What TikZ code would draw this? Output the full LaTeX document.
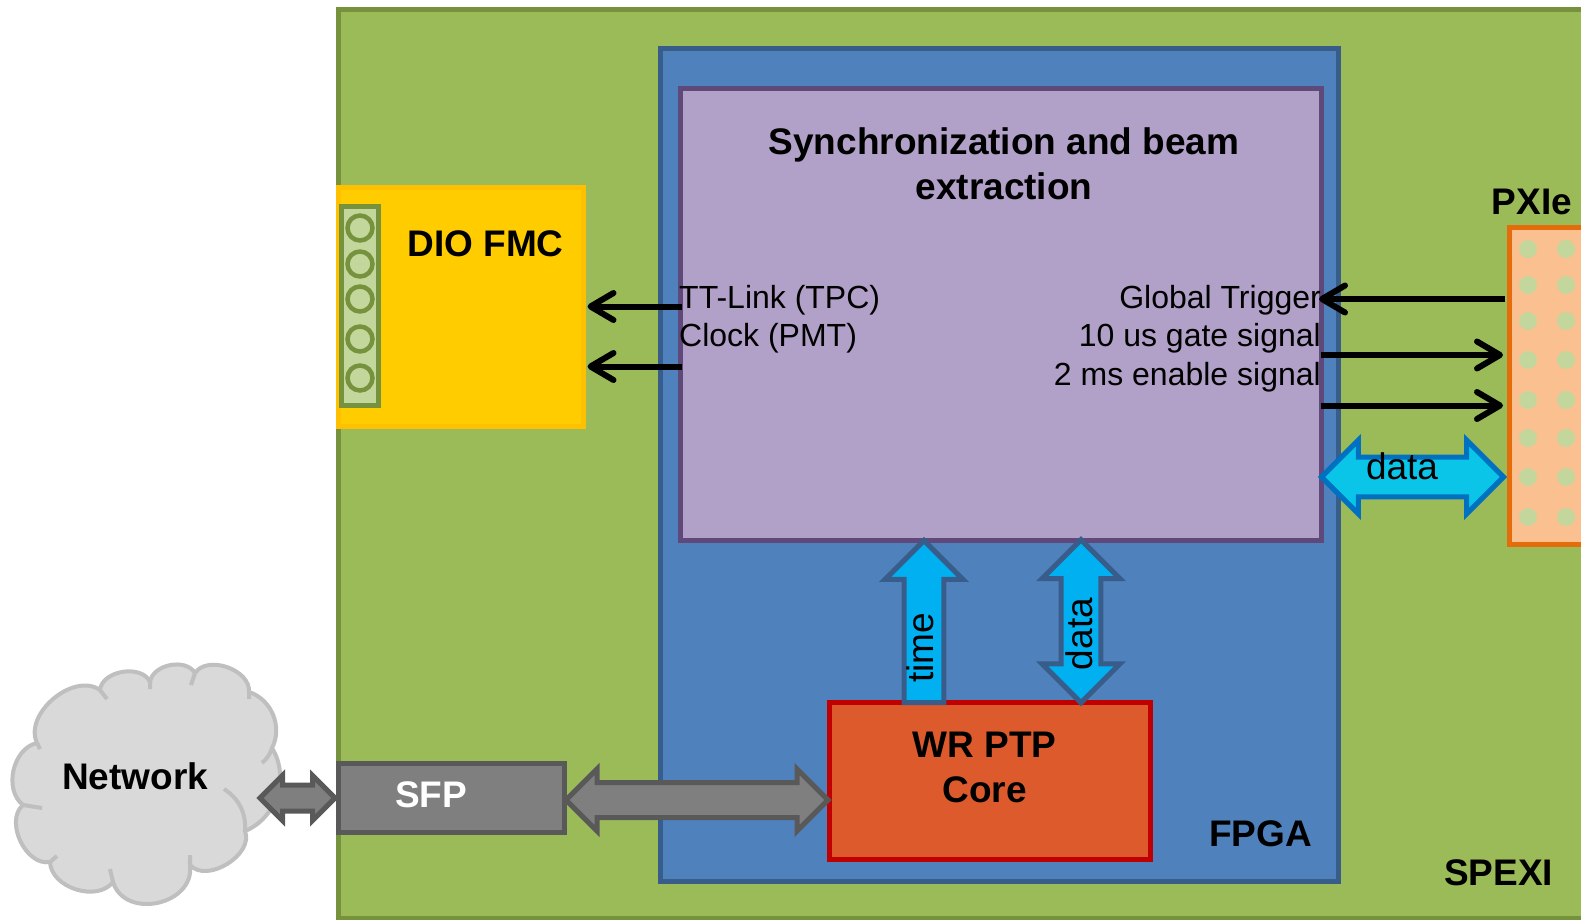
\documentclass[tikz,border=0pt]{standalone}
\usepackage{fontspec}
\setmainfont{Liberation Sans}
\usepackage{tikz}
\usetikzlibrary{calc,arrows.meta,shapes.arrows}
\definecolor{boardfill}{HTML}{9BBB59}
\definecolor{boardline}{HTML}{76923C}
\definecolor{fpgafill}{HTML}{4F81BD}
\definecolor{fpgaline}{HTML}{385D8A}
\definecolor{syncfill}{HTML}{B1A0C7}
\definecolor{syncline}{HTML}{5F497A}
\definecolor{dioline}{HTML}{FFC000}
\definecolor{diofill}{HTML}{FFCC00}
\definecolor{pinfill}{HTML}{C3D69B}
\definecolor{pxiefill}{HTML}{FAC090}
\definecolor{pxieline}{HTML}{E46C0A}
\definecolor{wrfill}{HTML}{DD5A2D}
\definecolor{wrline}{HTML}{C00000}
\definecolor{sfpfill}{HTML}{7F7F7F}
\definecolor{sfpline}{HTML}{595959}
\definecolor{cloudfill}{HTML}{D9D9D9}
\definecolor{cloudline}{HTML}{BFBFBF}
\definecolor{blockfill}{HTML}{00B0F0}
\definecolor{datafill}{HTML}{0BC5E8}
\definecolor{dataline}{HTML}{0070C0}
\begin{document}
\begin{tikzpicture}[x=1pt,y=-1pt,
  box/.style={rectangle,draw,line width=5pt,inner sep=0pt,outer sep=0pt},
  bold/.style={inner sep=0pt,align=center,font=\bfseries\fontsize{37}{45}\selectfont},
  plain/.style={inner sep=0pt,font=\fontsize{32}{38.5}\selectfont},
  flow/.style={inner sep=0pt,font=\fontsize{37}{45}\selectfont},
  pinhole/.style={circle,draw=boardline,fill=pinfill,line width=4.5pt,minimum size=25pt,inner sep=0pt},
  pxiedot/.style={circle,fill=pinfill,minimum size=18pt,inner sep=0pt},
  signal/.style={line width=6pt,-{Straight Barb[round,length=23pt,width=27pt]}},
  oneway/.style={single arrow,draw=fpgaline,fill=blockfill,line width=5pt,inner sep=17.4pt,outer sep=0pt,
    single arrow head extend=19pt,shape border rotate=90},
  twoway/.style={double arrow,line width=5pt,outer sep=0pt}]
\path[use as bounding box,clip] (0,0) rectangle (1581,920);
\node [box,draw=boardline,fill=boardfill,minimum width=1262pt,minimum height=909pt] (spexi) at (969,464) {};
\node [box,draw=fpgaline,fill=fpgafill,minimum width=678pt,minimum height=832pt] (fpga) at (999,465) {};
\node [box,draw=syncline,fill=syncfill,minimum width=641pt,minimum height=451pt] (sync) at (1000.5,314.5) {};
\node [box,draw=dioline,fill=diofill,minimum width=245pt,minimum height=239pt] (dio) at (461,307) {};
\node [box,line width=4.5pt,draw=boardline,fill=pinfill,minimum width=37pt,minimum height=199pt] (strip) at (360,306) {};
\foreach \y in {228,264,299,339,378}
  \node [pinhole] (pin\y) at (360,\y) {};
\node [box,draw=pxieline,fill=pxiefill,minimum width=102pt,minimum height=317pt] (pxie) at (1560.5,386) {};
\foreach \y in {249,285,321,360,400,438,477,517}{
  \node [pxiedot] (dotl\y) at (1528,\y) {};
  \node [pxiedot] (dotr\y) at (1566,\y) {};
}
\node [box,draw=wrline,fill=wrfill,minimum width=321pt,minimum height=157pt] (wr) at (990,781) {};
% cloud
\path[fill=cloudfill,draw=cloudline,line width=4pt]
  (37,743) to[bend left=75] (100,690) to[bend left=75] (150,682) to[bend left=70] (195,673)
  to[bend left=75] (249,692) to[bend left=50] (272,748) to[bend left=50] (245,831)
  to[bend left=80] (190,865) to[bend left=85,looseness=1.3] (113,882) to[bend left=70] (50,862)
  to[bend left=75] (23,805) to[bend left=65] (37,743) -- cycle;
\draw[cloudline,line width=4pt]
  (100,690) -- (107,699) (150,682) -- (150,689) (195,673) -- (191,685) (249,692) -- (249,699)
  (272,748) to[bend left=15] (262,763) (245,831) to[bend right=30] (224,789)
  (190,865) -- (190,855) (113,882) -- (110,869) (50,862) -- (57,856)
  (23,805) -- (42,808) (37,743) -- (40,749);
\node [bold] (net) at (135,776) {Network};
% links to the cloud and the core
\node [twoway,draw=sfpline,fill=sfpfill,inner sep=10.5pt,double arrow head extend=9.5pt,minimum height=75pt] (netlink) at (297.5,798) {};
\node [box,draw=sfpline,fill=sfpfill,minimum width=226pt,minimum height=69pt] (sfp) at (451.5,798) {};
\node [twoway,draw=sfpline,fill=sfpfill,inner sep=15pt,double arrow head extend=13.5pt,minimum height=262pt,yshift=-2pt] (sfplink) at ($(sfp.east)!.5!(wr.west |- sfp.east)$) {};
\node [oneway,anchor=tail,minimum height=162pt] (timearrow) at (924,0 |- wr.north) {};
\node [twoway,draw=fpgaline,fill=blockfill,inner sep=17.4pt,double arrow head extend=19pt,minimum height=163pt,shape border rotate=90] (dataup) at ($(sync.south -| 1081,0)!.5!(wr.north -| 1081,0)$) {};
\node [twoway,draw=dataline,fill=datafill,inner sep=17.4pt,double arrow head extend=17pt,minimum height=182pt] (datapxie) at (1412.5,477) {};
% texts
\node [bold] (synctext) at (1004,164) {Synchronization and beam\\extraction};
\node [bold] (diotext) at (485.5,244) {DIO FMC};
\node [bold] (wrtext) at (984.5,767) {WR PTP\\Core};
\node [bold,text=white] (sfptext) at (431,795) {SFP};
\node [bold] (fpgatext) at (1260.5,834) {FPGA};
\node [bold] (spexitext) at (1498.5,873) {SPEXI};
\node [bold] (pxietext) at (1532,202) {PXIe};
\node [plain,align=left,anchor=north west] (leftsig) at (679,285) {TT-Link (TPC)\\Clock (PMT)};
\node [plain,align=right,anchor=north east] (rightsig) at (1321,285) {Global Trigger\\10 us gate signal\\2 ms enable signal};
\node [flow] (datatext) at (1402,466) {data};
\node [flow,rotate=90] (timetext) at (920,648) {time};
\node [flow,rotate=90] (datavert) at (1079,634) {data};
% signals
\coordinate (ttlink) at (682,306.5);
\coordinate (clock) at (682,366.5);
\coordinate (trigger) at (1505,299);
\coordinate (gate) at (1321,355);
\coordinate (enable) at (1321,405.5);
\draw[signal,shorten >=4pt] (ttlink) -- (ttlink -| dio.east);
\draw[signal,shorten >=4pt] (clock) -- (clock -| dio.east);
\draw[signal,shorten >=-2pt] (trigger) -- (trigger -| sync.east);
\draw[signal,shorten >=6.5pt] (gate) -- (gate -| pxie.west);
\draw[signal,shorten >=6.5pt] (enable) -- (enable -| pxie.west);
\end{tikzpicture}
\end{document}
